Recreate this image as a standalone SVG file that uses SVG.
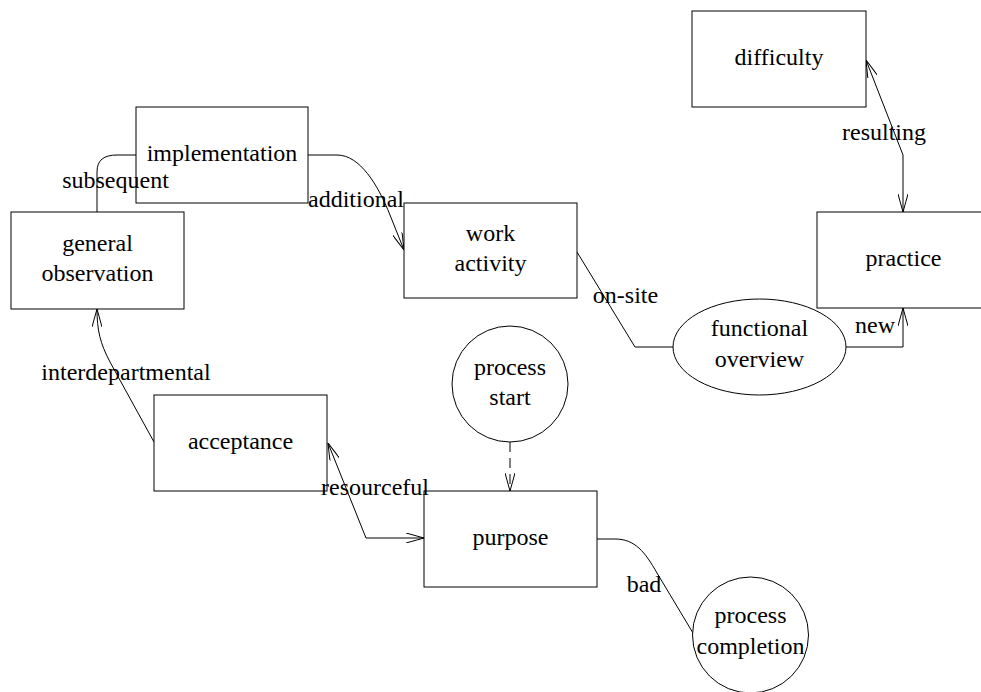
<svg xmlns="http://www.w3.org/2000/svg" width="981" height="692" viewBox="0 0 981 692">
<style>
.n{fill:#fff;stroke:#000;stroke-width:1}
.t{font-size:24px;fill:#000;text-anchor:middle}
.c{fill:none;stroke:#000;stroke-width:1}
</style>
<defs>
<marker id="a" viewBox="0 0 18 10" refX="18" refY="5" markerWidth="18" markerHeight="10" markerUnits="userSpaceOnUse" orient="auto-start-reverse">
<path d="M0,0 L18,5 L0,10" fill="none" stroke="#000" stroke-width="1"/>
</marker>
</defs>
<rect width="981" height="692" fill="#fff"/>
<g id="connectors">
<path class="c" d="M97,212 V172 C97,160 104,155 117,155 H136"/>
<path class="c" d="M308,155 H337 C360,155 378,185 390,215 L404,250" marker-end="url(#a)"/>
<path class="c" d="M577,252 L635,347 H673"/>
<path class="c" d="M846,347 H903 V308" marker-end="url(#a)"/>
<path class="c" d="M866,60 L903,155 V212" marker-start="url(#a)" marker-end="url(#a)"/>
<path class="c" d="M154,442 L110,362 C100,343 97,330 97,309" marker-end="url(#a)"/>
<path class="c" d="M328,443 L366,538 H424" marker-start="url(#a)" marker-end="url(#a)"/>
<path class="c" d="M510,442 V491" stroke-dasharray="10 6" marker-end="url(#a)"/>
<path class="c" d="M597,539 H615 C635,539 645,552 657,573 L693,633"/>
</g>
<g font-family="Liberation Serif, Times New Roman, Times, serif">
<g id="difficulty"><rect class="n" x="692" y="11" width="174" height="96"/><text class="t" x="779" y="64.5">difficulty</text></g>
<g id="implementation"><rect class="n" x="136" y="107" width="172" height="96"/><text class="t" x="222" y="160.5">implementation</text></g>
<g id="general_observation"><rect class="n" x="11" y="212" width="173" height="97"/><text class="t" x="97.5" y="251">general</text><text class="t" x="97.5" y="281">observation</text></g>
<g id="work_activity"><rect class="n" x="404" y="203" width="173" height="95"/><text class="t" x="490.5" y="241">work</text><text class="t" x="490.5" y="271">activity</text></g>
<g id="practice"><rect class="n" x="817" y="212" width="173" height="96"/><text class="t" x="903.5" y="265.5">practice</text></g>
<g id="functional_overview"><ellipse class="n" cx="759.5" cy="347" rx="86.5" ry="48"/><text class="t" x="759.5" y="336">functional</text><text class="t" x="759.5" y="367">overview</text></g>
<g id="process_start"><circle class="n" cx="510" cy="384" r="58"/><text class="t" x="510" y="375">process</text><text class="t" x="510" y="405">start</text></g>
<g id="acceptance"><rect class="n" x="154" y="395" width="173" height="96"/><text class="t" x="240.5" y="448.5">acceptance</text></g>
<g id="purpose"><rect class="n" x="424" y="491" width="173" height="96"/><text class="t" x="510.5" y="544.5">purpose</text></g>
<g id="process_completion"><circle class="n" cx="750.5" cy="635" r="58"/><text class="t" x="750.5" y="623">process</text><text class="t" x="750.5" y="654">completion</text></g>
<g id="labels">
<text class="t" x="115.5" y="188">subsequent</text>
<text class="t" x="356" y="207">additional</text>
<text class="t" x="625.5" y="303">on-site</text>
<text class="t" x="875" y="333">new</text>
<text class="t" x="884" y="140">resulting</text>
<text class="t" x="126" y="380">interdepartmental</text>
<text class="t" x="375" y="495">resourceful</text>
<text class="t" x="644" y="592">bad</text>
</g>
</g>
</svg>
